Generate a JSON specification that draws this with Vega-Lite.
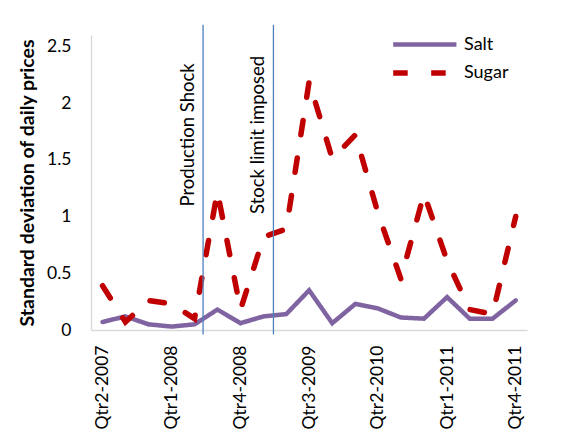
{
  "$schema": "https://vega.github.io/schema/vega-lite/v6.json",
  "autosize": "none",
  "width": 436,
  "height": 295,
  "padding": {"left": 91, "top": 35, "right": 50, "bottom": 112},
  "background": "white",
  "config": {
    "view": {"stroke": null},
    "font": "Lato",
    "axis": {"grid": false, "ticks": false, "domainColor": "#d9d9d9", "domainWidth": 1.3, "labelFont": "Lato", "labelFontSize": 17, "labelColor": "#000000"}
  },
  "datasets": {
    "prices": [
      {"quarter": "2007-04-01", "commodity": "Salt", "sd": 0.07},
      {"quarter": "2007-07-01", "commodity": "Salt", "sd": 0.12},
      {"quarter": "2007-10-01", "commodity": "Salt", "sd": 0.05},
      {"quarter": "2008-01-01", "commodity": "Salt", "sd": 0.03},
      {"quarter": "2008-04-01", "commodity": "Salt", "sd": 0.05},
      {"quarter": "2008-07-01", "commodity": "Salt", "sd": 0.18},
      {"quarter": "2008-10-01", "commodity": "Salt", "sd": 0.06},
      {"quarter": "2009-01-01", "commodity": "Salt", "sd": 0.12},
      {"quarter": "2009-04-01", "commodity": "Salt", "sd": 0.14},
      {"quarter": "2009-07-01", "commodity": "Salt", "sd": 0.35},
      {"quarter": "2009-10-01", "commodity": "Salt", "sd": 0.06},
      {"quarter": "2010-01-01", "commodity": "Salt", "sd": 0.23},
      {"quarter": "2010-04-01", "commodity": "Salt", "sd": 0.19},
      {"quarter": "2010-07-01", "commodity": "Salt", "sd": 0.11},
      {"quarter": "2010-10-01", "commodity": "Salt", "sd": 0.10},
      {"quarter": "2011-01-01", "commodity": "Salt", "sd": 0.29},
      {"quarter": "2011-04-01", "commodity": "Salt", "sd": 0.10},
      {"quarter": "2011-07-01", "commodity": "Salt", "sd": 0.10},
      {"quarter": "2011-10-01", "commodity": "Salt", "sd": 0.26},
      {"quarter": "2007-04-01", "commodity": "Sugar", "sd": 0.39},
      {"quarter": "2007-07-01", "commodity": "Sugar", "sd": 0.07},
      {"quarter": "2007-10-01", "commodity": "Sugar", "sd": 0.26},
      {"quarter": "2008-01-01", "commodity": "Sugar", "sd": 0.23},
      {"quarter": "2008-04-01", "commodity": "Sugar", "sd": 0.10},
      {"quarter": "2008-07-01", "commodity": "Sugar", "sd": 1.22},
      {"quarter": "2008-10-01", "commodity": "Sugar", "sd": 0.18},
      {"quarter": "2009-01-01", "commodity": "Sugar", "sd": 0.82},
      {"quarter": "2009-04-01", "commodity": "Sugar", "sd": 0.89},
      {"quarter": "2009-07-01", "commodity": "Sugar", "sd": 2.19},
      {"quarter": "2009-10-01", "commodity": "Sugar", "sd": 1.51},
      {"quarter": "2010-01-01", "commodity": "Sugar", "sd": 1.72},
      {"quarter": "2010-04-01", "commodity": "Sugar", "sd": 1.03},
      {"quarter": "2010-07-01", "commodity": "Sugar", "sd": 0.45},
      {"quarter": "2010-10-01", "commodity": "Sugar", "sd": 1.20},
      {"quarter": "2011-01-01", "commodity": "Sugar", "sd": 0.61},
      {"quarter": "2011-04-01", "commodity": "Sugar", "sd": 0.18},
      {"quarter": "2011-07-01", "commodity": "Sugar", "sd": 0.14},
      {"quarter": "2011-10-01", "commodity": "Sugar", "sd": 1.00}
    ],
    "events": [
      {"date": "2008-05-05", "event": "Production Shock"},
      {"date": "2009-02-09", "event": "Stock limit imposed"}
    ]
  },
  "encoding": {
    "x": {
      "type": "temporal",
      "scale": {"type": "utc", "domain": [{"year": 2007, "month": 2, "date": 14, "utc": true}, {"year": 2011, "month": 11, "date": 15, "utc": true}]},
      "axis": {
        "title": null,
        "values": [
          {"year": 2007, "month": 4, "date": 1, "utc": true},
          {"year": 2008, "month": 1, "date": 1, "utc": true},
          {"year": 2008, "month": 10, "date": 1, "utc": true},
          {"year": 2009, "month": 7, "date": 1, "utc": true},
          {"year": 2010, "month": 4, "date": 1, "utc": true},
          {"year": 2011, "month": 1, "date": 1, "utc": true},
          {"year": 2011, "month": 10, "date": 1, "utc": true}
        ],
        "labelExpr": "'Qtr' + utcquarter(datum.value) + '-' + utcyear(datum.value)",
        "labelAngle": 270,
        "labelAlign": "right",
        "labelBaseline": "middle",
        "labelPadding": 15,
        "labelFontSize": 17.5,
        "labelFlush": false,
        "labelOverlap": false,
        "labelBound": false
      }
    }
  },
  "layer": [
    {
      "data": {"name": "prices"},
      "mark": {"type": "line", "strokeCap": "round"},
      "encoding": {
        "x": {"field": "quarter"},
        "y": {
          "field": "sd", "type": "quantitative",
          "scale": {"domain": [0, 2.5]},
          "axis": {
            "title": "Standard deviation of daily prices",
            "titleFont": "Lato", "titleFontSize": 19.5, "titleFontWeight": "bold", "titleColor": "#000000",
            "titlePadding": 9,
            "values": [0, 0.5, 1, 1.5, 2, 2.5],
            "format": "~g",
            "labelFontSize": 17.5,
            "labelPadding": 20
          }
        },
        "color": {
          "field": "commodity", "type": "nominal",
          "scale": {"domain": ["Salt", "Sugar"], "range": ["#8064A2", "#C00000"]},
          "legend": {
            "title": null,
            "orient": "none",
            "legendX": 299,
            "legendY": -9,
            "symbolType": "M-1,0H3",
            "symbolSize": 1000,
            "symbolStrokeWidth": 5.5,
            "labelFont": "Lato",
            "labelFontSize": 18,
            "labelColor": "#000000",
            "labelOffset": 36,
            "rowPadding": -1
          }
        },
        "strokeDash": {
          "field": "commodity", "type": "nominal",
          "scale": {"domain": ["Salt", "Sugar"], "range": [[1, 0], [14.5, 23.5]]},
          "legend": null
        },
        "strokeWidth": {
          "field": "commodity", "type": "nominal",
          "scale": {"domain": ["Salt", "Sugar"], "range": [4.5, 5.5]},
          "legend": null
        }
      }
    },
    {
      "data": {"name": "events"},
      "mark": {"type": "rule", "color": "#4F81BD", "strokeWidth": 1.3},
      "encoding": {
        "x": {"field": "date"},
        "y": {"datum": 2.69, "type": "quantitative"},
        "y2": {"datum": -0.04}
      }
    },
    {
      "data": {"name": "events"},
      "mark": {"type": "text", "angle": 270, "align": "center", "baseline": "alphabetic", "dy": -9, "font": "Lato", "fontSize": 18.5, "color": "#000000"},
      "encoding": {
        "x": {"field": "date"},
        "y": {"datum": 1.72, "type": "quantitative"},
        "text": {"field": "event"}
      }
    }
  ]
}
